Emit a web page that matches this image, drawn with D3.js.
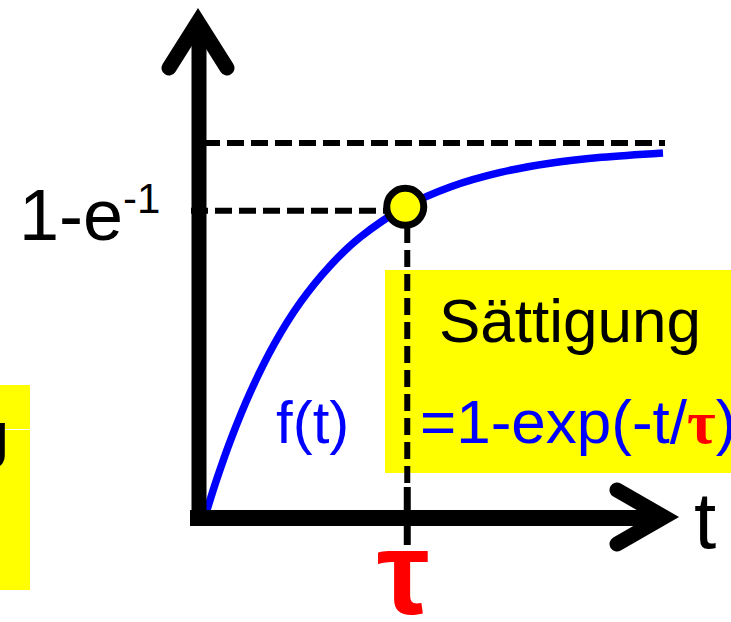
<!DOCTYPE html>
<html>
<head>
<meta charset="utf-8">
<script src="https://cdn.jsdelivr.net/npm/d3@7"></script>
<style>
  html, body { margin: 0; padding: 0; background: #fff; overflow: hidden; }
  svg { display: block; }
  text { font-family: Arial, "Liberation Sans", sans-serif; }
</style>
</head>
<body>
<svg id="chart" width="731" height="622"></svg>
<script>
// ---- data ----
const tValues = [0, 0.05, 0.12, 0.22, 0.34, 0.47, 0.62, 0.77, 1.0, 1.23, 1.48, 1.73, 1.99, 2.3];
const fValues = [0, 0.085, 0.192, 0.323, 0.453, 0.565, 0.665, 0.742, 0.826, 0.881, 0.920, 0.945, 0.961, 0.973];
const markerT = 1.0;       // t = tau
const markerF = 0.826;     // 1 - e^-1 (as drawn)
const asymptoteF = 1.0;
const tDomain = [0, 2.3];
const fDomain = [0, 1];
const yTickLabel = "1-e";
const yTickSup = "-1";
const xAxisLabel = "t";
const tauLabel = "τ";
const curveLabel = "f(t)";
const boxTitle = "Sättigung";
const formulaParts = [
  { text: "=1-exp(-t/", color: "#0000ff" },
  { text: "τ", color: "#ff0000", tau: true },
  { text: ")", color: "#0000ff" }
];
const leftBoxText = "Aufladung";

// ---- drawing ----
const svg = d3.select("#chart");
const x = d3.scaleLinear().domain(tDomain).range([207, 663]);
const y = d3.scaleLinear().domain(fDomain).range([510, 143]);
const YELLOW = "#ffff00";
const TAU_FONT = "'Liberation Serif', 'DejaVu Serif', serif";

// yellow boxes
svg.append("rect").attr("x", -10).attr("y", 385).attr("width", 40).attr("height", 205).attr("fill", YELLOW);
svg.append("text").attr("x", 9).attr("y", 455).attr("text-anchor", "end")
  .attr("font-size", 62).attr("fill", "#000").text(leftBoxText);
svg.append("line").attr("x1", 5).attr("x2", 30).attr("y1", 429.5).attr("y2", 429.5)
  .attr("stroke", "#fff").attr("stroke-width", 1);

svg.append("rect").attr("x", 385).attr("y", 270).attr("width", 360).attr("height", 203).attr("fill", YELLOW);

// dashed guide lines
const dash = "17,7";
svg.append("line").attr("x1", 203).attr("x2", 665)
  .attr("y1", y(asymptoteF)).attr("y2", y(asymptoteF))
  .attr("stroke", "#000").attr("stroke-width", 6).attr("stroke-dasharray", dash);
svg.append("line").attr("x1", 191).attr("x2", x(markerT) - 15)
  .attr("y1", y(markerF) + 4).attr("y2", y(markerF) + 4)
  .attr("stroke", "#000").attr("stroke-width", 6).attr("stroke-dasharray", dash);
svg.append("line").attr("x1", x(markerT) + 2).attr("x2", x(markerT) + 2)
  .attr("y1", 226).attr("y2", 483)
  .attr("stroke", "#000").attr("stroke-width", 6).attr("stroke-dasharray", dash);
svg.append("line").attr("x1", x(markerT) + 2).attr("x2", x(markerT) + 2)
  .attr("y1", 487).attr("y2", 545)
  .attr("stroke", "#000").attr("stroke-width", 7);

// curve
const pts = tValues.map((t, i) => [x(t), y(fValues[i])]);
svg.append("path").attr("d", d3.line().curve(d3.curveCatmullRom.alpha(0.5))(pts))
  .attr("fill", "none").attr("stroke", "#0000ff").attr("stroke-width", 7.5);

// axes with arrows
svg.append("line").attr("x1", 199).attr("x2", 199).attr("y1", 526).attr("y2", 24)
  .attr("stroke", "#000").attr("stroke-width", 15);
svg.append("path").attr("d", "M169,68 L198,22 L227,68")
  .attr("fill", "none").attr("stroke", "#000").attr("stroke-width", 15)
  .attr("stroke-linecap", "round").attr("stroke-linejoin", "miter").attr("stroke-miterlimit", 10);
svg.append("line").attr("x1", 190).attr("x2", 662).attr("y1", 518).attr("y2", 518)
  .attr("stroke", "#000").attr("stroke-width", 16);
svg.append("path").attr("d", "M617,490 L664,517 L617,544")
  .attr("fill", "none").attr("stroke", "#000").attr("stroke-width", 15)
  .attr("stroke-linecap", "round").attr("stroke-linejoin", "miter").attr("stroke-miterlimit", 10);

// marker
svg.append("circle").attr("cx", x(markerT)).attr("cy", y(markerF)).attr("r", 18.5)
  .attr("fill", YELLOW).attr("stroke", "#000").attr("stroke-width", 7);

// texts
svg.append("text").attr("x", 19).attr("y", 240).attr("font-size", 72).text(yTickLabel);
svg.append("text").attr("x", 123).attr("y", 213).attr("font-size", 42).text(yTickSup);
svg.append("text").attr("x", 694).attr("y", 548).attr("font-size", 80).text(xAxisLabel);
svg.append("text").attr("x", x(markerT) - 2).attr("y", 614).attr("text-anchor", "middle")
  .attr("font-size", 118).attr("font-family", TAU_FONT)
  .attr("font-weight", "bold").attr("fill", "#ff0000").text(tauLabel);
svg.append("text").attr("x", 276).attr("y", 443).attr("font-size", 60).attr("fill", "#0000ff").text(curveLabel);
svg.append("text").attr("x", 439).attr("y", 342).attr("font-size", 62).attr("fill", "#000").text(boxTitle);

const formula = svg.append("text").attr("x", 420).attr("y", 443).attr("font-size", 62);
formulaParts.forEach(p => {
  const ts = formula.append("tspan").attr("fill", p.color).text(p.text);
  if (p.tau) ts.attr("font-family", TAU_FONT).attr("font-weight", "bold");
});
</script>
</body>
</html>
